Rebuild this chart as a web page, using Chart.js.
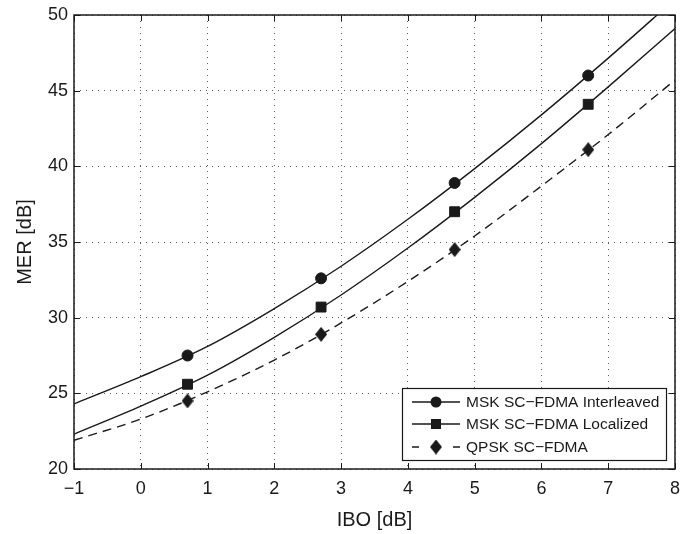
<!DOCTYPE html>
<html>
<head>
<meta charset="utf-8">
<script src="https://cdn.jsdelivr.net/npm/chart.js@4.4.0/dist/chart.umd.min.js"></script>
<style>
    html, body { margin: 0; padding: 0; background: #fff; }
    #wrap { width: 683px; height: 534px; }
</style>
</head>
<body>
<div id="wrap"><canvas id="merChart"></canvas></div>
<script>
// curves (at integer IBO)
const curveIbo = [-1, 0, 1, 2, 3, 4, 5, 6, 7, 8];
const interleavedCurve = [24.3, 26.1, 28.1, 30.6, 33.4, 36.5, 39.85, 43.4, 47.15, 51.05];
const localizedCurve = [22.3, 24.15, 26.2, 28.7, 31.5, 34.6, 37.95, 41.5, 45.25, 49.1];
const qpskCurve = [21.9, 23.3, 25.1, 27.2, 29.65, 32.4, 35.4, 38.7, 42.1, 45.7];

// markers
const markerIbo = [0.7, 2.7, 4.7, 6.7];
const interleavedPoints = [27.5, 32.6, 38.9, 46.0];
const localizedPoints = [25.6, 30.7, 37.0, 44.1];
const qpskPoints = [24.5, 28.9, 34.5, 41.1];

const seriesNames = ['MSK SC\u2212FDMA Interleaved', 'MSK SC\u2212FDMA Localized', 'QPSK SC\u2212FDMA'];
const xTitle = 'IBO [dB]';
const yTitle = 'MER [dB]';

const ink = '#1a1a1a';
const fontFamily = '"Liberation Sans", Arial, Helvetica, sans-serif';

function toPoints(xs, ys) {
    return xs.map((x, i) => ({ x: x, y: ys[i] }));
}

// tall MATLAB-like diamond
function makeDiamond(w, h) {
    const c = document.createElement('canvas');
    c.width = w;
    c.height = h;
    const g = c.getContext('2d');
    g.fillStyle = ink;
    g.beginPath();
    g.moveTo(w / 2, 0);
    g.lineTo(w, h / 2);
    g.lineTo(w / 2, h);
    g.lineTo(0, h / 2);
    g.closePath();
    g.fill();
    return c;
}
const diamond = makeDiamond(12, 15);

function curveSet(data, dashed) {
    return {
        data: data,
        borderColor: ink,
        borderWidth: 1.4,
        borderDash: dashed ? [9, 6] : [],
        pointRadius: 0,
        cubicInterpolationMode: 'monotone',
        fill: false
    };
}

function markerSet(data, style, radius) {
    return {
        data: data,
        showLine: false,
        pointStyle: style,
        pointRadius: radius,
        pointHoverRadius: radius,
        pointBackgroundColor: ink,
        pointBorderColor: ink,
        pointBorderWidth: 1
    };
}

const frameAndLegend = {
    id: 'frameAndLegend',
    afterDraw(chart) {
        const ctx = chart.ctx;
        const a = chart.chartArea;
        const xs = chart.scales.x;
        const ys = chart.scales.y;
        ctx.save();
        ctx.strokeStyle = ink;
        ctx.lineWidth = 1;
        // inward ticks on all four sides
        ctx.beginPath();
        xs.ticks.forEach(t => {
            const px = Math.round(xs.getPixelForValue(t.value)) + 0.5;
            ctx.moveTo(px, a.bottom); ctx.lineTo(px, a.bottom - 6);
            ctx.moveTo(px, a.top); ctx.lineTo(px, a.top + 6);
        });
        ys.ticks.forEach(t => {
            const py = Math.round(ys.getPixelForValue(t.value)) + 0.5;
            ctx.moveTo(a.left, py); ctx.lineTo(a.left + 6, py);
            ctx.moveTo(a.right, py); ctx.lineTo(a.right - 6, py);
        });
        ctx.stroke();
        // axes box
        ctx.lineWidth = 1.5;
        ctx.strokeRect(a.left, a.top, a.right - a.left, a.bottom - a.top);

        // legend box
        const bx = 402, by = 388, bw = 264, bh = 72;
        ctx.fillStyle = '#fff';
        ctx.fillRect(bx, by, bw, bh);
        ctx.lineWidth = 1.2;
        ctx.strokeRect(bx + 0.5, by + 0.5, bw, bh);
        const rows = [402, 424, 447];
        ctx.font = '15.5px ' + fontFamily;
        ctx.textBaseline = 'middle';
        rows.forEach((ry, i) => {
            ctx.strokeStyle = ink;
            ctx.lineWidth = 1.4;
            ctx.beginPath();
            if (i === 2) {
                ctx.moveTo(412, ry); ctx.lineTo(419, ry);
                ctx.moveTo(453, ry); ctx.lineTo(460, ry);
            } else {
                ctx.moveTo(412, ry); ctx.lineTo(460, ry);
            }
            ctx.stroke();
            ctx.fillStyle = ink;
            if (i === 0) {
                ctx.beginPath();
                ctx.arc(436, ry, 5.5, 0, Math.PI * 2);
                ctx.fill();
            } else if (i === 1) {
                ctx.fillRect(431, ry - 5, 10, 10);
            } else {
                ctx.drawImage(diamond, 430, ry - 7.5);
            }
            ctx.fillText(seriesNames[i], 466, ry + 1);
        });
        ctx.restore();
    }
};

new Chart(document.getElementById('merChart').getContext('2d'), {
    type: 'line',
    data: {
        datasets: [
            curveSet(toPoints(curveIbo, interleavedCurve), false),
            curveSet(toPoints(curveIbo, localizedCurve), false),
            curveSet(toPoints(curveIbo, qpskCurve), true),
            markerSet(toPoints(markerIbo, interleavedPoints), 'circle', 5.5),
            markerSet(toPoints(markerIbo, localizedPoints), 'rect', 7),
            markerSet(toPoints(markerIbo, qpskPoints), diamond, 7)
        ]
    },
    options: {
        responsive: true,
        maintainAspectRatio: false,
        animation: false,
        layout: { padding: { left: 0, right: 2, top: 15, bottom: 0 } },
        plugins: {
            legend: { display: false },
            tooltip: { enabled: false }
        },
        scales: {
            x: {
                type: 'linear',
                min: -1,
                max: 8,
                ticks: {
                    stepSize: 1,
                    padding: 9,
                    color: ink,
                    font: { size: 18, family: fontFamily },
                    maxRotation: 0,
                    callback: v => (v < 0 ? '\u2212' + Math.abs(v) : String(v))
                },
                grid: { color: 'rgba(40,40,40,0.75)', lineWidth: 1, drawTicks: false },
                border: { display: false, dash: [1, 5] },
                title: {
                    display: true,
                    text: xTitle,
                    color: ink,
                    font: { size: 20, family: fontFamily },
                    padding: { top: 0, bottom: 2 }
                },
                afterFit(scale) {
                    scale.height = 65;
                    scale.paddingLeft = 0;
                    scale.paddingRight = 0;
                }
            },
            y: {
                min: 20,
                max: 50,
                ticks: {
                    stepSize: 5,
                    padding: 6,
                    color: ink,
                    font: { size: 18, family: fontFamily }
                },
                grid: { color: 'rgba(40,40,40,0.75)', lineWidth: 1, drawTicks: false },
                border: { display: false, dash: [1, 5] },
                title: {
                    display: true,
                    text: yTitle,
                    color: ink,
                    font: { size: 20, family: fontFamily },
                    padding: { top: 13, bottom: 0 }
                },
                afterFit(scale) {
                    scale.width = 74;
                    scale.paddingTop = 0;
                    scale.paddingBottom = 0;
                }
            }
        }
    },
    plugins: [frameAndLegend]
});
</script>
</body>
</html>
